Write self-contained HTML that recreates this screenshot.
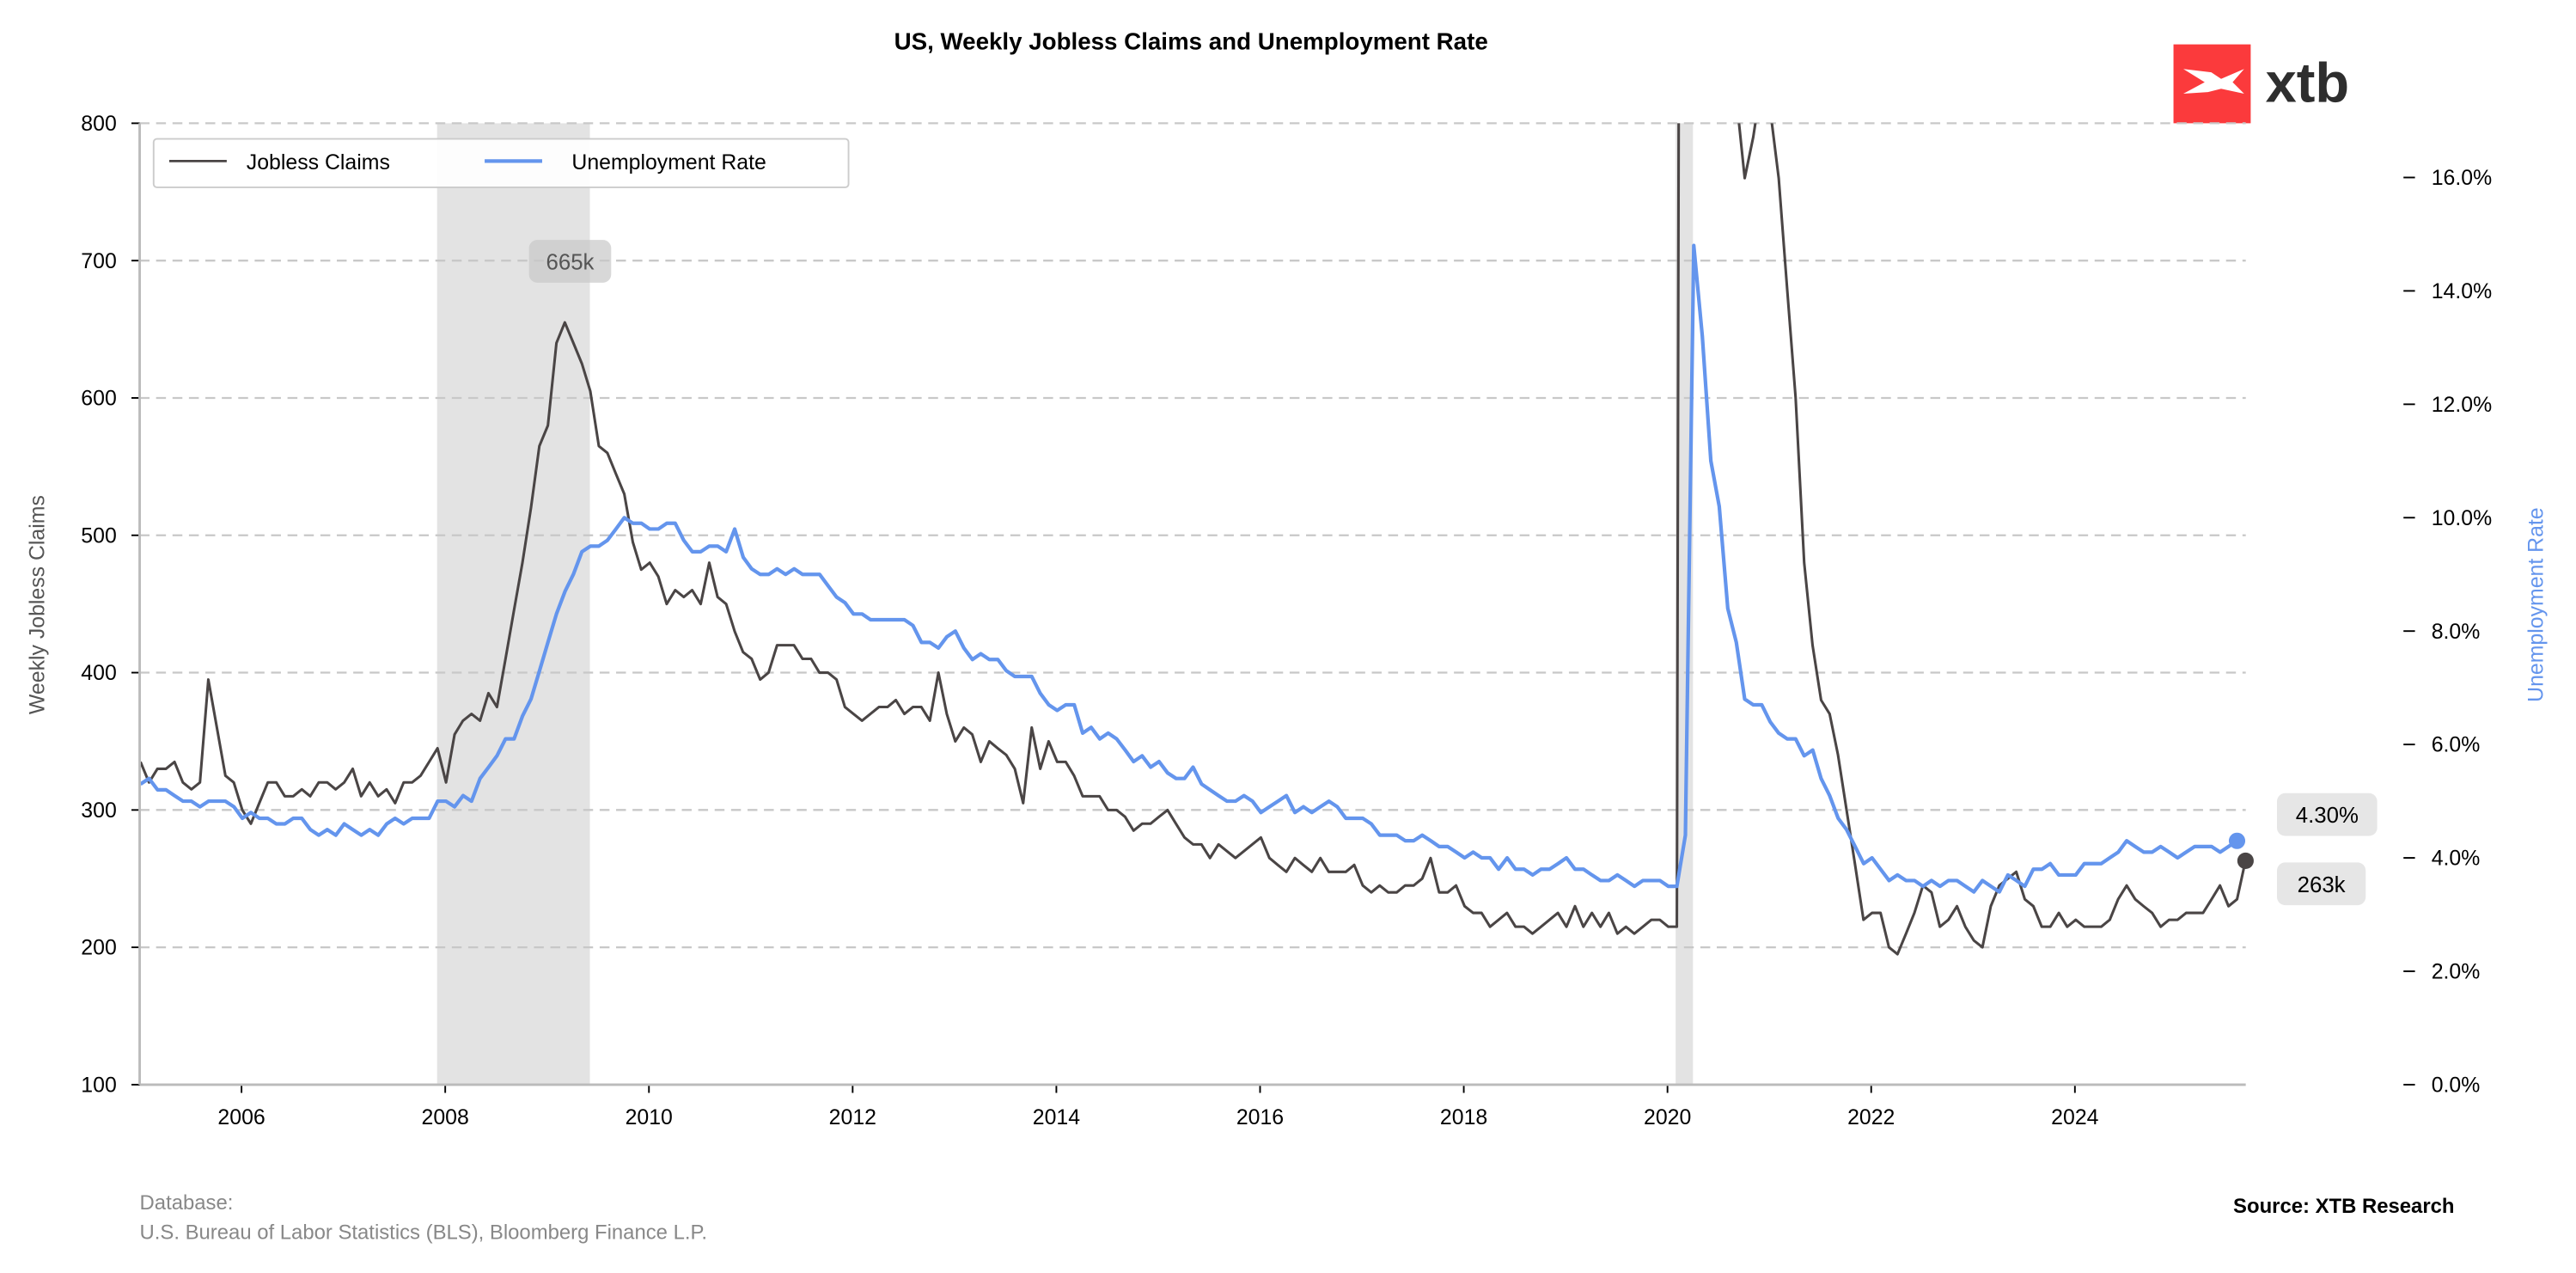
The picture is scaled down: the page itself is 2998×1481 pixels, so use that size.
<!DOCTYPE html>
<html><head><meta charset="utf-8"><style>
html,body{margin:0;padding:0;background:#fff}
svg{display:block;font-family:"Liberation Sans",Arial,sans-serif}
</style></head><body>
<svg id="chart" width="2998" height="1481" viewBox="0 0 1568 774.6" xmlns="http://www.w3.org/2000/svg">
<defs><clipPath id="plotclip"><rect x="85" y="75" width="1284" height="585"/></clipPath></defs>
<text x="725" y="30" text-anchor="middle" font-size="14.5" font-weight="bold">US, Weekly Jobless Claims and Unemployment Rate</text>
<g>
<rect x="1323" y="27" width="47" height="48" fill="#fb3a3c"/>
<path d="M1329 42 L1346 44 L1352 48 L1366 42 L1359 50 L1366 57 L1352 54 L1344 56 L1329 57 L1342 50 Z" fill="#fff"/>
<text x="1379" y="62" font-size="34" font-weight="bold" fill="#2e2e2e">xtb</text>
</g>
<g id="bands"></g>
<g id="grid"></g>
<g id="series" clip-path="url(#plotclip)"></g>
<g id="axes"></g>
<g>
<rect x="93.5" y="84.5" width="423" height="29.5" rx="2" fill="#fff" fill-opacity="0.9" stroke="#ccc"/>
<line x1="103" y1="98" x2="138" y2="98" stroke="#4a4545" stroke-width="1.5"/>
<text x="150" y="103" font-size="13">Jobless Claims</text>
<line x1="295" y1="98" x2="330" y2="98" stroke="#6495ed" stroke-width="2.2"/>
<text x="348" y="103" font-size="13">Unemployment Rate</text>
</g>
<text transform="translate(27,368) rotate(-90)" text-anchor="middle" font-size="13" fill="#555">Weekly Jobless Claims</text>
<text transform="translate(1548,368) rotate(-90)" text-anchor="middle" font-size="13" fill="#6495ed">Unemployment Rate</text>
<text x="85" y="736" font-size="12.5" fill="#888">Database:</text>
<text x="85" y="754" font-size="12.5" fill="#888">U.S. Bureau of Labor Statistics (BLS), Bloomberg Finance L.P.</text>
<text x="1494" y="738" text-anchor="end" font-size="12.5" font-weight="bold">Source: XTB Research</text>
</svg>
<script>
const years=[2006,2008,2010,2012,2014,2016,2018,2020,2022,2024];
const leftTicks=[100,200,300,400,500,600,700,800];
const rightTicks=[0,2,4,6,8,10,12,14,16];
const recessions=[[2007.92,2009.42],[2020.08,2020.25]];
const claims=[
335,320,330,330,335,320,315,320,395,360,325,320,
300,290,305,320,320,310,310,315,310,320,320,315,
320,330,310,320,310,315,305,320,320,325,335,345,
320,355,365,370,365,385,375,410,445,480,520,565,
580,640,655,640,625,605,565,560,545,530,495,475,
480,470,450,460,455,460,450,480,455,450,430,415,
410,395,400,420,420,420,410,410,400,400,395,375,
370,365,370,375,375,380,370,375,375,365,400,370,
350,360,355,335,350,345,340,330,305,360,330,350,
335,335,325,310,310,310,300,300,295,285,290,290,
295,300,290,280,275,275,265,275,270,265,270,275,
280,265,260,255,265,260,255,265,255,255,255,260,
245,240,245,240,240,245,245,250,265,240,240,245,
230,225,225,215,220,225,215,215,210,215,220,225,
215,230,215,225,215,225,210,215,210,215,220,220,
215,215,2900,4500,2500,1500,1300,1000,820,760,790,830,
810,760,680,600,480,420,380,370,340,300,260,220,
225,225,200,195,210,225,245,240,215,220,230,215,
205,200,230,245,250,255,235,230,215,215,225,215,
220,215,215,215,220,235,245,235,230,225,215,220,
220,225,225,225,235,245,230,235,263];
const urate=[
5.3,5.4,5.2,5.2,5.1,5.0,5.0,4.9,5.0,5.0,5.0,4.9,
4.7,4.8,4.7,4.7,4.6,4.6,4.7,4.7,4.5,4.4,4.5,4.4,
4.6,4.5,4.4,4.5,4.4,4.6,4.7,4.6,4.7,4.7,4.7,5.0,
5.0,4.9,5.1,5.0,5.4,5.6,5.8,6.1,6.1,6.5,6.8,7.3,
7.8,8.3,8.7,9.0,9.4,9.5,9.5,9.6,9.8,10.0,9.9,9.9,
9.8,9.8,9.9,9.9,9.6,9.4,9.4,9.5,9.5,9.4,9.8,9.3,
9.1,9.0,9.0,9.1,9.0,9.1,9.0,9.0,9.0,8.8,8.6,8.5,
8.3,8.3,8.2,8.2,8.2,8.2,8.2,8.1,7.8,7.8,7.7,7.9,
8.0,7.7,7.5,7.6,7.5,7.5,7.3,7.2,7.2,7.2,6.9,6.7,
6.6,6.7,6.7,6.2,6.3,6.1,6.2,6.1,5.9,5.7,5.8,5.6,
5.7,5.5,5.4,5.4,5.6,5.3,5.2,5.1,5.0,5.0,5.1,5.0,
4.8,4.9,5.0,5.1,4.8,4.9,4.8,4.9,5.0,4.9,4.7,4.7,
4.7,4.6,4.4,4.4,4.4,4.3,4.3,4.4,4.3,4.2,4.2,4.1,
4.0,4.1,4.0,4.0,3.8,4.0,3.8,3.8,3.7,3.8,3.8,3.9,
4.0,3.8,3.8,3.7,3.6,3.6,3.7,3.6,3.5,3.6,3.6,3.6,
3.5,3.5,4.4,14.8,13.2,11.0,10.2,8.4,7.8,6.8,6.7,6.7,
6.4,6.2,6.1,6.1,5.8,5.9,5.4,5.1,4.7,4.5,4.2,3.9,
4.0,3.8,3.6,3.7,3.6,3.6,3.5,3.6,3.5,3.6,3.6,3.5,
3.4,3.6,3.5,3.4,3.7,3.6,3.5,3.8,3.8,3.9,3.7,3.7,
3.7,3.9,3.9,3.9,4.0,4.1,4.3,4.2,4.1,4.1,4.2,4.1,
4.0,4.1,4.2,4.2,4.2,4.1,4.2,4.3];
const peakLabel='665k';
const NS='http://www.w3.org/2000/svg';
const X0=85,X1=1367,T0=2005,PX_YR=62;
function xs(t){return X0+(t-T0)*PX_YR;}
function yL(v){return 660-(v-100)*(585/700);}
function yR(p){return 660-p*34.5;}
function mk(tag,attrs,parent){const e=document.createElementNS(NS,tag);for(const k in attrs)e.setAttribute(k,attrs[k]);parent.appendChild(e);return e;}
const bands=document.getElementById('bands'),grid=document.getElementById('grid'),series=document.getElementById('series'),axes=document.getElementById('axes');
recessions.forEach(r=>{const e=mk('rect',{x:xs(r[0]),y:75,width:xs(r[1])-xs(r[0]),height:585,fill:'#e3e3e3'},bands);

});
leftTicks.forEach(v=>{
 if(v>100){const g=mk('line',{x1:X0,x2:X1,y1:yL(v),y2:yL(v),stroke:'#c8c8c8','stroke-dasharray':'6,4','stroke-width':1.2},grid);
 
 }
 mk('line',{x1:X0-5,x2:X0,y1:yL(v),y2:yL(v),stroke:'#000'},axes);
 const t=mk('text',{x:X0-14,y:yL(v)+4.5,'text-anchor':'end','font-size':13},axes);t.textContent=v;
 
 
});
rightTicks.forEach(p=>{
 mk('line',{x1:1463,x2:1470,y1:yR(p),y2:yR(p),stroke:'#000'},axes);
 const t=mk('text',{x:1480,y:yR(p)+4.5,'font-size':13},axes);t.textContent=p.toFixed(1)+'%';
 
 
});
years.forEach(y=>{
 mk('line',{x1:xs(y),x2:xs(y),y1:660,y2:665,stroke:'#000'},axes);
 const t=mk('text',{x:xs(y),y:684,'text-anchor':'middle','font-size':13},axes);t.textContent=y;
 
 
});
mk('line',{x1:X0,x2:X0,y1:75,y2:660,stroke:'#bbb','stroke-width':1.5},axes);
mk('line',{x1:X0,x2:X1,y1:660,y2:660,stroke:'#bbb','stroke-width':1.5},axes);
function tC(i){return T0+(i+0.1)/12;}
function tU(i){return T0+i/12+0.1/12;}
const cp=claims.map((v,i)=>xs(tC(i)).toFixed(1)+','+yL(v).toFixed(1)).join(' ');
const cl=mk('polyline',{points:cp,fill:'none',stroke:'#4a4545','stroke-width':1.6,'stroke-linejoin':'round'},series);


const up=urate.map((v,i)=>xs(tU(i)).toFixed(1)+','+yR(v).toFixed(1)).join(' ');
const ul=mk('polyline',{points:up,fill:'none',stroke:'#6495ed','stroke-width':2.2,'stroke-linejoin':'round'},series);


const lc=claims.length-1,lu=urate.length-1;
const m1=mk('circle',{cx:xs(tU(lu)),cy:yR(urate[lu]),r:5,fill:'#6495ed'},axes);


const m2=mk('circle',{cx:xs(tC(lc)),cy:yL(claims[lc]),r:5,fill:'#4a4545'},axes);


function badge(x,y,w,txt,name,fill,col){
 const g=mk('g',{},axes);
 
 
 mk('rect',{x:x,y:y-13,width:w,height:26,rx:5,fill:fill},g);
 const t=mk('text',{x:x+w/2,y:y+5,'text-anchor':'middle','font-size':13.5,fill:col},g);t.textContent=txt;
}
badge(1386,yR(urate[lu])-16,61,urate[lu].toFixed(2)+'%','unemployment-last-badge','#e6e6e6','#000');
badge(1386,yL(claims[lc])+14,54,claims[lc]+'k','claims-last-badge','#e6e6e6','#000');
badge(322,159,50,peakLabel,'peak-annotation','rgba(200,200,200,0.7)','#555');
</script>
</body></html>
